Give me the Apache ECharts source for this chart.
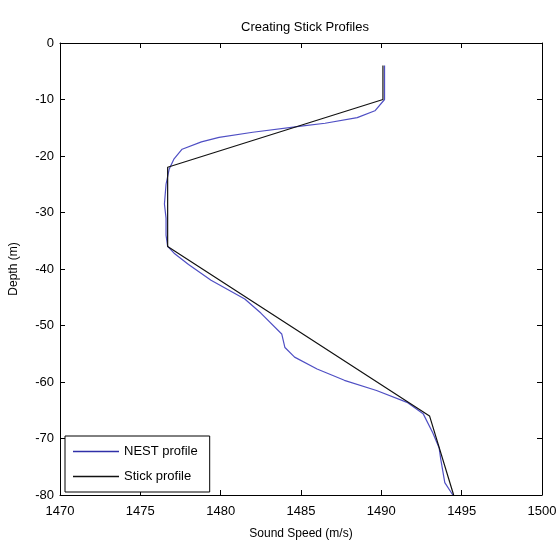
<!DOCTYPE html>
<html>
<head>
<meta charset="utf-8">
<script src="https://cdn.jsdelivr.net/npm/echarts@6/dist/echarts.min.js"></script>
<style>html,body{margin:0;padding:0;background:#fff}#c{width:560px;height:545px}</style>
</head>
<body>
<div id="c"></div>
<script>
// NEST profile (sound speed m/s, depth m)
const nestSpeed = [1490.2,1490.2,1489.6,1488.5,1486.5,1485.0,1482.0,1479.9,1478.8,1477.6,1477.1,1476.8,1476.6,1476.5,1476.6,1476.6,1476.7,1477.1,1478.0,1479.4,1481.5,1482.5,1483.8,1484.0,1484.6,1486.0,1487.7,1489.7,1491.6,1492.6,1493.2,1493.6,1493.7,1493.95,1494.45];
const nestDepth = [-4,-10,-12,-13.2,-14.2,-14.7,-15.8,-16.7,-17.5,-18.8,-20.5,-22.3,-25,-28.5,-31,-34,-36,-37.2,-39.2,-42,-45.3,-47.8,-51.5,-53.9,-55.6,-57.7,-59.7,-61.5,-63.6,-65.6,-69,-71.7,-73.7,-77.8,-80];
// Stick profile
const stickSpeed = [1490.1,1490.1,1476.7,1476.7,1493.0,1494.5];
const stickDepth = [-4,-10,-22,-36,-66,-80];
const xTicks = {min:1470, max:1500, interval:5};
const yTicks = {min:-80, max:0, interval:10};

const font = '"Liberation Sans", Arial, sans-serif';
const pair = (xs, ys) => xs.map((x, i) => [x, ys[i]]);

const chart = echarts.init(document.getElementById('c'), null, {renderer:'canvas'});
const axisCommon = {
  axisLine:{show:true, onZero:false, lineStyle:{color:'#000', width:1}},
  axisTick:{show:true, inside:true, length:5, lineStyle:{color:'#000'}},
  splitLine:{show:false}
};
chart.setOption({
  animation:false,
  backgroundColor:'#fff',
  title:{text:'Creating Stick Profiles', left:300, textAlign:'center', top:16,
    textStyle:{fontFamily:font, fontSize:13, fontWeight:'normal', color:'#000'}},
  grid:{left:56, right:18, top:43, bottom:45},
  legend:{
    orient:'vertical', left:65, top:436,
    backgroundColor:'#fff', borderColor:'#000', borderWidth:1, borderRadius:0,
    padding:[9,12,9,8], itemGap:12, itemWidth:46, itemHeight:1.5, icon:'rect',
    textStyle:{fontFamily:font, fontSize:13, color:'#000'},
    data:['NEST profile','Stick profile']
  },
  xAxis:[
    Object.assign({type:'value', position:'bottom', min:xTicks.min, max:xTicks.max, interval:xTicks.interval,
      name:'Sound Speed (m/s)', nameLocation:'middle', nameGap:33,
      nameTextStyle:{fontFamily:font, fontSize:12, color:'#000'},
      axisLabel:{fontFamily:font, fontSize:13, color:'#000', margin:10, formatter:v => String(v)}}, axisCommon),
    Object.assign({type:'value', position:'top', min:xTicks.min, max:xTicks.max, interval:xTicks.interval,
      axisLabel:{show:false}}, axisCommon)
  ],
  yAxis:[
    Object.assign({type:'value', position:'left', min:yTicks.min, max:yTicks.max, interval:yTicks.interval,
      name:'Depth (m)', nameLocation:'middle', nameGap:40, nameRotate:90,
      nameTextStyle:{fontFamily:font, fontSize:12, color:'#000'},
      axisLabel:{fontFamily:font, fontSize:13, color:'#000', margin:6, formatter:v => String(v)}}, axisCommon),
    Object.assign({type:'value', position:'right', min:yTicks.min, max:yTicks.max, interval:yTicks.interval,
      axisLabel:{show:false}}, axisCommon)
  ],
  series:[
    {name:'NEST profile', type:'line', data:pair(nestSpeed, nestDepth), showSymbol:false, symbol:'none',
      lineStyle:{color:'#4f4fc4', width:1.2}, itemStyle:{color:'#3030a8'}},
    {name:'Stick profile', type:'line', data:pair(stickSpeed, stickDepth), showSymbol:false, symbol:'none',
      lineStyle:{color:'#111', width:1.2}, itemStyle:{color:'#111'}}
  ]
});
</script>
</body>
</html>
